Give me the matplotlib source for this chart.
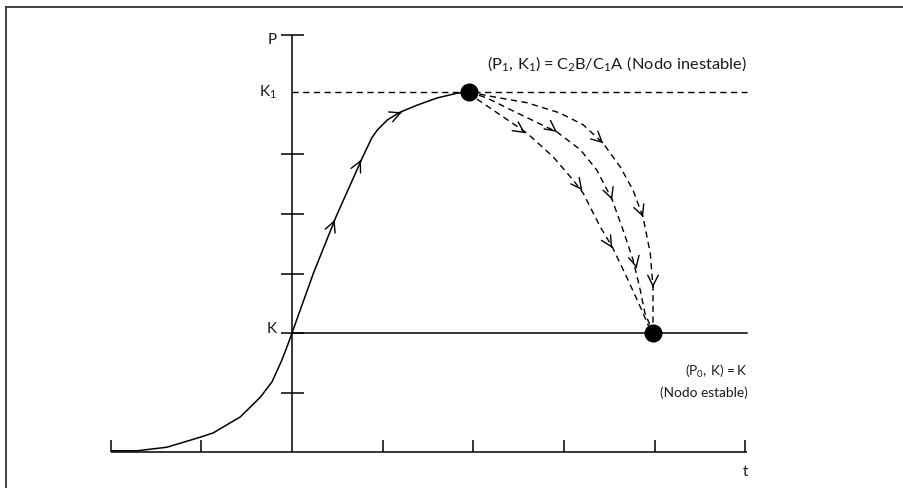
import numpy as np
import matplotlib
matplotlib.use("Agg")
import matplotlib.pyplot as plt
from matplotlib.lines import Line2D

plt.rcParams['font.family'] = ['Lato', 'DejaVu Sans']

# ---- data ----
x_ticks = [-2, -1, 1, 2, 3, 4, 5]
y_ticks = [1, 2, 3, 4, 5]
K = 2.0
K1 = 6.05
P_top = 7.0
x_end = 5.02

solid_x = [-1.98, -1.71, -1.38, -1.03, -0.87, -0.57, -0.35, -0.22, -0.11, -0.04, 0.0,
           0.235, 0.49, 0.78, 0.88, 0.94, 1.05, 1.19, 1.38, 1.60, 1.82, 1.95]
solid_y = [0.02, 0.02, 0.08, 0.24, 0.32, 0.59, 0.92, 1.18, 1.55, 1.83, 2.0,
           3.00, 3.97, 4.96, 5.28, 5.41, 5.58, 5.71, 5.83, 5.95, 6.03, 6.05]
solid_arrows = [(0.47, 3.90), (0.76, 4.91), (1.21, 5.71)]

dash1_x = [1.95, 2.05, 2.33, 2.59, 2.88, 3.10, 3.21, 3.40, 3.53, 3.69, 3.84, 3.93, 3.98]
dash1_y = [6.05, 5.92, 5.63, 5.36, 4.96, 4.57, 4.35, 3.78, 3.45, 2.94, 2.44, 2.12, 2.0]
dash2_x = [1.95, 2.15, 2.48, 2.92, 3.18, 3.36, 3.53, 3.65, 3.76, 3.84, 3.89, 3.95, 3.98]
dash2_y = [6.05, 5.95, 5.70, 5.38, 5.08, 4.74, 4.24, 3.73, 3.23, 2.72, 2.34, 2.12, 2.0]
dash3_x = [1.95, 2.22, 2.59, 2.95, 3.21, 3.43, 3.62, 3.76, 3.87, 3.95, 3.98, 3.98, 3.98]
dash3_y = [6.05, 5.97, 5.87, 5.70, 5.50, 5.19, 4.79, 4.40, 3.95, 3.34, 2.77, 2.22, 2.0]
dash1_arrows = [(2.57, 5.36), (3.20, 4.40), (3.53, 3.43)]
dash2_arrows = [(2.92, 5.38), (3.53, 4.24), (3.80, 3.09)]
dash3_arrows = [(3.43, 5.19), (3.87, 3.95), (3.98, 2.77)]

node_unstable = (1.95, 6.05)
node_stable = (3.98, 2.0)

label_P = "P"
label_K1 = r"$\mathregular{K_1}$"
label_K = "K"
label_t = "t"
label_unstable = r"$\mathregular{(P_1,\,K_1) = C_2B/C_1A\ (Nodo\ inestable)}$"
label_stable1 = r"$\mathregular{(P_0,\,K) = K}$"
label_stable2 = "(Nodo estable)"

# ---- figure ----
fig = plt.figure(figsize=(9.04, 4.88), dpi=100)
ax = fig.add_axes([0, 0, 1, 1])
ax.set_xlim(-292 / 90.7, (904 - 292) / 90.7)
ax.set_ylim((452 - 488) / 59.5, 452 / 59.5)
ax.axis('off')

lw = 1.1
col = 'black'

# axes
ax.plot([x_ticks[0], x_end], [0, 0], color=col, lw=lw, solid_capstyle='butt')
ax.plot([0, 0], [0, P_top], color=col, lw=lw, solid_capstyle='butt')
for xt in x_ticks:
    ax.plot([xt, xt], [0, 0.2], color=col, lw=lw, solid_capstyle='butt')
for yt in y_ticks + [P_top]:
    ax.plot([-0.12, 0.13], [yt, yt], color=col, lw=lw, solid_capstyle='butt')

# equilibrium lines
ax.plot([0, x_end], [K, K], color=col, lw=lw)
ax.plot([0, x_end], [K1, K1], color=col, lw=1.0, dashes=(4.5, 3.2))

# trajectories
ax.plot(solid_x, solid_y, color=col, lw=lw, solid_joinstyle='round')
for xs, ys in [(dash1_x, dash1_y), (dash2_x, dash2_y), (dash3_x, dash3_y)]:
    ax.plot(xs, ys, color=col, lw=1.0, dashes=(4.5, 3.2))


def add_arrows(xs, ys, tips):
    xs = np.asarray(xs); ys = np.asarray(ys)
    for tx, ty in tips:
        d = (xs[:-1] + xs[1:]) / 2 - tx, (ys[:-1] + ys[1:]) / 2 - ty
        i = int(np.argmin(d[0] ** 2 + d[1] ** 2))
        vx, vy = xs[i + 1] - xs[i], ys[i + 1] - ys[i]
        n = np.hypot(vx, vy)
        vx, vy = vx / n, vy / n
        ax.annotate('', xy=(tx, ty), xytext=(tx - 0.01 * vx, ty - 0.01 * vy),
                    arrowprops=dict(arrowstyle='->,head_length=0.75,head_width=0.38',
                                    color=col, lw=1.0, shrinkA=0, shrinkB=0))


add_arrows(solid_x, solid_y, solid_arrows)
add_arrows(dash1_x, dash1_y, dash1_arrows)
add_arrows(dash2_x, dash2_y, dash2_arrows)
add_arrows(dash3_x, dash3_y, dash3_arrows)

# nodes
ax.plot(*node_unstable, 'o', color=col, ms=12, zorder=5)
ax.plot(*node_stable, 'o', color=col, ms=12, zorder=5)

# labels
tc = '#1a1a1a'
ax.text(-0.17, 6.92, label_P, ha='right', va='center', fontsize=11, color=tc)
ax.text(-0.17, K1, label_K1, ha='right', va='center', fontsize=11, color=tc)
ax.text(-0.17, 2.07, label_K, ha='right', va='center', fontsize=11, color=tc)
ax.text(5.0, -0.33, label_t, ha='center', va='center', fontsize=11, color=tc)
ax.text(x_end, 6.52, label_unstable, ha='right', va='center', fontsize=11.8, color=tc)
ax.text(x_end, 1.36, label_stable1, ha='right', va='center', fontsize=9.8, color=tc)
ax.text(x_end, 1.0, label_stable2, ha='right', va='center', fontsize=9.8, color=tc)

# partial frame (top and left edges)
fig.add_artist(Line2D([6 / 904, 1], [1 - 7 / 488, 1 - 7 / 488], transform=fig.transFigure,
                      color='#333333', lw=1.3))
fig.add_artist(Line2D([6 / 904, 6 / 904], [0, 1 - 7 / 488], transform=fig.transFigure,
                      color='#333333', lw=1.3))

fig.savefig('out.png', dpi=100, facecolor='white')
